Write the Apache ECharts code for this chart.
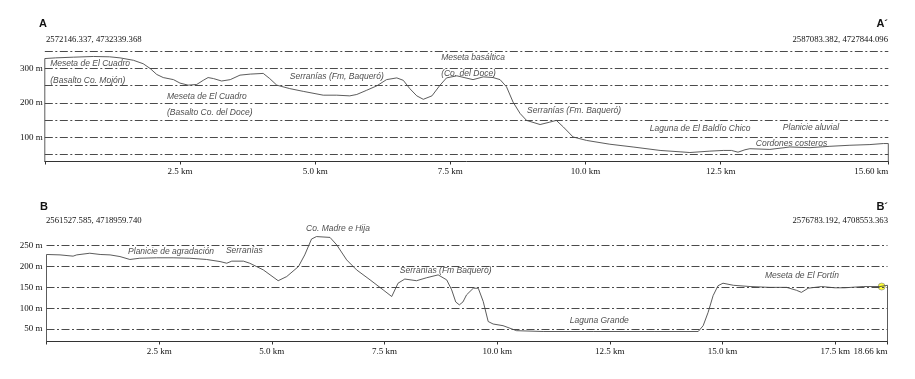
<!DOCTYPE html>
<html>
<head>
<meta charset="utf-8">
<title>Perfiles A-A´ y B-B´</title>
<script src="https://cdn.jsdelivr.net/npm/echarts@6.0.0/dist/echarts.min.js"></script>
<style>
  html, body { margin: 0; padding: 0; background: #fff; }
  #chart { width: 915px; height: 379px; }
</style>
</head>
<body>
<div id="chart"></div>
<script>
// perfil A - A´ : distancia (km) y cota (m)
const distA = [0.00, 0.20, 0.53, 0.90, 1.20, 1.39, 1.64, 1.82, 1.95, 2.07, 2.19, 2.38, 2.50, 2.65, 2.81, 2.93,
  3.02, 3.12, 3.27, 3.43, 3.61, 3.80, 4.04, 4.16, 4.29, 4.53, 4.78, 5.15, 5.40, 5.64, 5.77, 5.95, 6.14, 6.32,
  6.51, 6.63, 6.75, 6.88, 7.00, 7.16, 7.31, 7.43, 7.62, 7.92, 8.11, 8.29, 8.42, 8.54, 8.66, 8.79, 8.91, 9.16,
  9.34, 9.46, 9.59, 9.77, 10.02, 10.45, 10.88, 11.38, 11.75, 11.93, 12.30, 12.55, 12.70, 12.82, 12.95, 13.04,
  13.41, 13.78, 14.15, 14.52, 14.89, 15.26, 15.51, 15.60];
const cotaA = [328, 330, 332, 334, 333, 330, 323, 313, 299, 282, 273, 267, 257, 251, 253, 265,
  273, 270, 263, 267, 280, 283, 285, 270, 251, 241, 233, 222, 222, 220, 224, 236, 249, 267,
  272, 265, 241, 220, 210, 220, 251, 272, 278, 267, 275, 273, 267, 246, 202, 169, 149, 137,
  144, 149, 130, 101, 91, 80, 72, 62, 58, 56, 60, 62, 62, 57, 64, 67,
  65, 72, 70, 74, 77, 79, 82, 82];

// perfil B - B´
const distB = [0.00, 0.30, 0.59, 0.67, 0.96, 1.19, 1.41, 1.63, 1.85, 2.07, 2.44, 2.81, 3.18, 3.55, 3.85, 4.00,
  4.11, 4.37, 4.51, 4.66, 4.81, 5.14, 5.33, 5.59, 5.73, 5.88, 5.99, 6.29, 6.44, 6.66, 6.88, 7.18, 7.47, 7.66,
  7.80, 7.95, 8.21, 8.43, 8.69, 8.88, 8.99, 9.08, 9.16, 9.24, 9.32, 9.47, 9.58, 9.69, 9.80, 9.91, 10.13, 10.43,
  11.02, 12.13, 13.50, 14.46, 14.57, 14.68, 14.79, 14.90, 15.01, 15.24, 15.61, 16.05, 16.42, 16.64, 16.75,
  16.90, 17.20, 17.49, 17.71, 18.12, 18.49, 18.66];
const cotaB = [229, 228, 225, 228, 232, 229, 228, 224, 217, 220, 221, 221, 220, 217, 212, 208,
  213, 213, 208, 200, 192, 166, 176, 200, 228, 266, 272, 270, 252, 216, 192, 168, 144, 128,
  160, 170, 166, 173, 180, 168, 144, 115, 108, 115, 132, 148, 148, 116, 68, 62, 58, 46,
  44, 44, 44, 44, 58, 90, 130, 154, 160, 155, 152, 150, 150, 143, 138,
  148, 152, 149, 149, 152, 152, 155];
const puntoFinB = [18.53, 152];

const ticksA = [0, 2.5, 5.0, 7.5, 10.0, 12.5, 15.60];
const ticksALabels = ['', '2.5 km', '5.0 km', '7.5 km', '10.0 km', '12.5 km', '15.60 km'];
const ticksB = [0, 2.5, 5.0, 7.5, 10.0, 12.5, 15.0, 17.5, 18.66];
const ticksBLabels = ['', '2.5 km', '5.0 km', '7.5 km', '10.0 km', '12.5 km', '15.0 km', '17.5 km', '18.66 km'];
const cotasLabelA = [100, 200, 300];
const cotasLabelB = [50, 100, 150, 200, 250];
const lineasA = [50, 100, 150, 200, 250, 300, 350];
const lineasB = [50, 100, 150, 200, 250];

const notasA = [
  [0.10, 314, 'Meseta de El Cuadro'],
  [0.10, 265, '(Basalto Co. Mojón)'],
  [2.26, 219, 'Meseta de El Cuadro'],
  [2.26, 170, '(Basalto Co. del Doce)'],
  [4.53, 277, 'Serranías (Fm, Baqueró)'],
  [7.33, 332, 'Meseta basáltica'],
  [7.33, 285, '(Co. del Doce)'],
  [8.92, 178, 'Serranías (Fm. Baqueró)'],
  [11.19, 126, 'Laguna de El Baldío Chico'],
  [13.65, 129, 'Planicie aluvial'],
  [13.15, 83, 'Cordones costeros']
];
const notasB = [
  [1.81, 236, 'Planicie de agradación'],
  [3.98, 238, 'Serranías'],
  [5.76, 290, 'Co. Madre e Hija'],
  [7.84, 190, 'Serranías (Fm Baqueró)'],
  [11.61, 69, 'Laguna Grande'],
  [15.94, 179, 'Meseta de El Fortín']
];

const minA = 30, maxA = 360, minB = 20, maxB = 295;

const serif = 'Liberation Serif';
const sans = 'Liberation Sans';
const dashDot = [8, 2.5, 2, 2.5];

// el perfil se cierra contra el eje, como en el original
function perfil(dist, cota, yMin) {
  let pts = dist.map((d, i) => [d, cota[i]]);
  return [[dist[0], yMin]].concat(pts, [[dist[dist.length - 1], yMin]]);
}

function ejeX(idx, max, ticks, labels) {
  return {
    type: 'value', gridIndex: idx, min: 0, max: max,
    axisLine: {show: true, lineStyle: {color: '#333', width: 1}},
    axisTick: {show: true, customValues: ticks, length: 3, lineStyle: {color: '#333'}},
    axisLabel: {
      customValues: ticks.slice(1),
      margin: 6,
      fontFamily: serif, fontSize: 9, color: '#111',
      alignMaxLabel: 'right',
      formatter: v => labels[ticks.indexOf(v)]
    },
    splitLine: {show: false}
  };
}

function ejeY(idx, min, max, cotas, margin) {
  return {
    type: 'value', gridIndex: idx, min: min, max: max,
    axisLine: {show: false}, axisTick: {show: false},
    axisLabel: {
      customValues: cotas, margin: margin,
      fontFamily: serif, fontSize: 9, color: '#111',
      formatter: v => v + ' m'
    },
    splitLine: {show: false}
  };
}

function serieNotas(idx, notas) {
  return {
    type: 'scatter', xAxisIndex: idx, yAxisIndex: idx, silent: true, clip: false,
    symbolSize: 0,
    data: notas.map(n => ({value: [n[0], n[1]], name: n[2]})),
    label: {
      show: true, position: 'right', distance: 0, formatter: '{b}',
      fontFamily: sans, fontStyle: 'italic', fontSize: 8.5, color: '#1a1a1a'
    }
  };
}

function seriePerfil(idx, dist, cota, yMin, lineas) {
  return {
    type: 'line', xAxisIndex: idx, yAxisIndex: idx, silent: true,
    symbol: 'none', smooth: false,
    lineStyle: {color: '#4a4a4a', width: 0.9},
    data: perfil(dist, cota, yMin),
    markLine: {
      silent: true, symbol: ['none', 'none'], animation: false,
      label: {show: false},
      lineStyle: {color: '#4a4a4a', width: 1, type: dashDot},
      data: lineas.map(v => ({yAxis: v}))
    }
  };
}

function texto(str, x, y, font, align) {
  return {
    type: 'text', x: x, y: y, silent: true,
    style: {
      text: str, font: font, fill: '#111',
      align: align, textAlign: align,
      verticalAlign: 'middle', textVerticalAlign: 'middle'
    }
  };
}

const chart = echarts.init(document.getElementById('chart'), null, {renderer: 'canvas'});

const option = {
  animation: false,
  backgroundColor: '#fff',
  grid: [
    {left: 44.8, top: 47.5, width: 843.5, height: 114, containLabel: false},
    {left: 46.5, top: 227, width: 841, height: 114.5, containLabel: false}
  ],
  xAxis: [ejeX(0, 15.6, ticksA, ticksALabels), ejeX(1, 18.66, ticksB, ticksBLabels)],
  yAxis: [ejeY(0, minA, maxA, cotasLabelA, 2), ejeY(1, minB, maxB, cotasLabelB, 4)],
  graphic: [
    texto('A', 39, 23.7, 'bold 11px ' + sans, 'left'),
    texto('A´', 888, 23.7, 'bold 11px ' + sans, 'right'),
    texto('2572146.337, 4732339.368', 46, 39.5, '8.7px ' + serif, 'left'),
    texto('2587083.382, 4727844.096', 888, 39.5, '8.7px ' + serif, 'right'),
    texto('B', 40, 207, 'bold 11px ' + sans, 'left'),
    texto('B´', 888, 207, 'bold 11px ' + sans, 'right'),
    texto('2561527.585, 4718959.740', 46, 220.7, '8.7px ' + serif, 'left'),
    texto('2576783.192, 4708553.363', 888, 220.7, '8.7px ' + serif, 'right')
  ],
  series: [
    seriePerfil(0, distA, cotaA, minA, lineasA),
    seriePerfil(1, distB, cotaB, minB, lineasB),
    serieNotas(0, notasA),
    serieNotas(1, notasB),
    {
      type: 'scatter', xAxisIndex: 1, yAxisIndex: 1, silent: true,
      symbol: 'circle', symbolSize: 7,
      itemStyle: {color: '#ffff00', borderColor: '#888', borderWidth: 0.8},
      data: [puntoFinB]
    }
  ]
};

chart.setOption(option);
</script>
</body>
</html>
